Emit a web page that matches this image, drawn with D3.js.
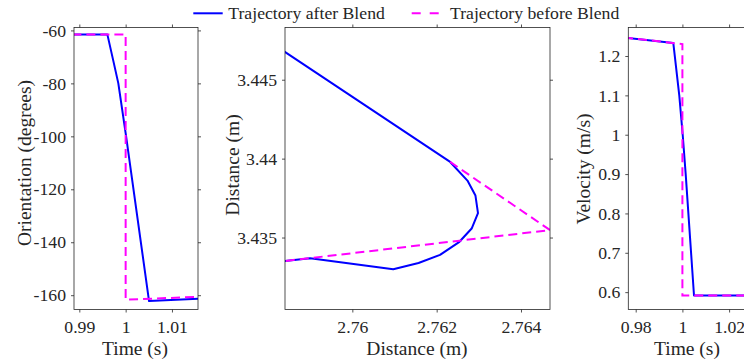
<!DOCTYPE html>
<html>
<head>
<meta charset="utf-8">
<script src="https://cdn.jsdelivr.net/npm/d3@7"></script>
<style>
  body { margin: 0; background: #fff; }
  svg text { font-family: "Liberation Serif", "Times New Roman", serif; fill: #262626; }
</style>
</head>
<body>
<svg width="744" height="364"></svg>
<script>
// orientation panel
var orientTimeAfter = [0.9885, 0.99605, 0.99734, 0.99842, 1.0001, 1.00505, 1.0157];
var orientAfter = [-61.5, -61.5, -71.5, -80, -100, -162.2, -161.3];
var orientTimeBefore = [0.9885, 1.0, 1.0, 1.0157];
var orientBefore = [-61.5, -61.5, -161.7, -160.6];
var orientXTicks = [0.99, 1, 1.01];
var orientXLabels = ["0.99", "1", "1.01"];
var orientYTicks = [-160, -140, -120, -100, -80, -60];
var orientYLabels = ["-160", "-140", "-120", "-100", "-80", "-60"];

// path panel
var posXAfter = [2.7582, 2.76232, 2.76273, 2.76292, 2.76298, 2.76283, 2.76254, 2.76208, 2.76157, 2.76097, 2.7590, 2.7582];
var posYAfter = [3.44712, 3.43979, 3.43861, 3.43766, 3.43655, 3.43557, 3.43473, 3.43390, 3.43339, 3.43299, 3.43369, 3.43345];
var posXBefore = [2.76232, 2.76469, 2.7582];
var posYBefore = [3.43979, 3.43547, 3.43345];
var posXTicks = [2.76, 2.762, 2.764];
var posXLabels = ["2.76", "2.762", "2.764"];
var posYTicks = [3.435, 3.44, 3.445];
var posYLabels = ["3.435", "3.44", "3.445"];

// velocity panel
var velTimeAfter = [0.975, 0.99610, 0.99866, 1.00013, 1.00141, 1.00497, 1.03];
var velAfter = [1.2472, 1.2332, 1.1, 1.0, 0.9, 0.5916, 0.5916];
var velTimeBefore = [0.975, 1.0, 1.0, 1.03];
var velBefore = [1.2472, 1.2304, 0.5916, 0.5916];
var velXTicks = [0.98, 1, 1.02];
var velXLabels = ["0.98", "1", "1.02"];
var velYTicks = [0.6, 0.7, 0.8, 0.9, 1, 1.1, 1.2];
var velYLabels = ["0.6", "0.7", "0.8", "0.9", "1", "1.1", "1.2"];

var legendNames = ["Trajectory after Blend", "Trajectory before Blend"];

var svg = d3.select("svg");
var top0 = 27.5, bottom0 = 309.5;
var serif = "'Liberation Serif', 'Times New Roman', serif";
var tickFont = "17.7px", labelFont = "19.5px";
var blue = "#0000ff", magenta = "#ff00ff";

function zip(a, b) {
    return a.map(function (v, i) { return [v, b[i]]; });
}

function drawPanel(p) {
    var x = d3.scaleLinear().domain(p.xDomain).range([p.left, p.right]);
    var y = d3.scaleLinear().domain(p.yDomain).range([bottom0, top0]);

    var clipId = "clip-" + p.name;
    svg.append("clipPath").attr("id", clipId)
        .append("rect")
        .attr("x", p.left).attr("y", top0)
        .attr("width", p.right - p.left).attr("height", bottom0 - top0);

    var line = d3.line()
        .x(function (d) { return x(d[0]); })
        .y(function (d) { return y(d[1]); });

    var g = svg.append("g").attr("clip-path", "url(#" + clipId + ")");
    g.append("path")
        .attr("d", line(p.after))
        .attr("fill", "none")
        .attr("stroke", blue)
        .attr("stroke-width", 2)
        .attr("stroke-linejoin", "round");
    g.append("path")
        .attr("d", line(p.before))
        .attr("fill", "none")
        .attr("stroke", magenta)
        .attr("stroke-width", 2)
        .attr("stroke-dasharray", "9,5");

    // box
    svg.append("rect")
        .attr("x", p.left).attr("y", top0)
        .attr("width", p.right - p.left).attr("height", bottom0 - top0)
        .attr("fill", "none")
        .attr("stroke", "#262626")
        .attr("stroke-width", 0.8);

    var bottomAxis = svg.append("g")
        .attr("transform", "translate(0," + bottom0 + ")")
        .call(d3.axisBottom(x).tickValues(p.xTicks)
            .tickFormat(function (d, i) { return p.xLabels[i]; })
            .tickSize(3).tickSizeOuter(0).tickPadding(8));
    var leftAxis = svg.append("g")
        .attr("transform", "translate(" + p.left + ",0)")
        .call(d3.axisLeft(y).tickValues(p.yTicks)
            .tickFormat(function (d, i) { return p.yLabels[i]; })
            .tickSize(3).tickSizeOuter(0).tickPadding(5));
    var topAxis = svg.append("g")
        .attr("transform", "translate(0," + top0 + ")")
        .call(d3.axisTop(x).tickValues(p.xTicks).tickFormat("")
            .tickSize(3).tickSizeOuter(0));
    var rightAxis = svg.append("g")
        .attr("transform", "translate(" + p.right + ",0)")
        .call(d3.axisRight(y).tickValues(p.yTicks).tickFormat("")
            .tickSize(3).tickSizeOuter(0));

    [bottomAxis, leftAxis, topAxis, rightAxis].forEach(function (a) {
        a.attr("font-family", serif);
        a.select(".domain").remove();
        a.selectAll("line").attr("stroke", "#262626").attr("stroke-width", 0.8);
        a.selectAll("text")
            .style("font-family", serif)
            .style("font-size", tickFont);
    });

    svg.append("text")
        .attr("x", p.xLabelX).attr("y", 355)
        .attr("text-anchor", "middle")
        .style("font-size", labelFont)
        .text(p.xTitle);
    svg.append("text")
        .attr("transform", "translate(" + p.yLabelX + "," + p.yLabelY + ") rotate(-90)")
        .attr("text-anchor", "middle")
        .style("font-size", labelFont)
        .text(p.yTitle);
}

drawPanel({
    name: "orient", left: 74, right: 198,
    xDomain: [0.98885, 1.01562], yDomain: [-165.4, -58.9],
    after: zip(orientTimeAfter, orientAfter), before: zip(orientTimeBefore, orientBefore),
    xTicks: orientXTicks, xLabels: orientXLabels, yTicks: orientYTicks, yLabels: orientYLabels,
    xTitle: "Time (s)", yTitle: "Orientation (degrees)",
    xLabelX: 135, yLabelX: 31, yLabelY: 163
});

drawPanel({
    name: "pos", left: 285, right: 550,
    xDomain: [2.758403, 2.764688], yDomain: [3.43044, 3.44831],
    after: zip(posXAfter, posYAfter), before: zip(posXBefore, posYBefore),
    xTicks: posXTicks, xLabels: posXLabels, yTicks: posYTicks, yLabels: posYLabels,
    xTitle: "Distance (m)", yTitle: "Distance (m)",
    xLabelX: 417, yLabelX: 239, yLabelY: 165
});

drawPanel({
    name: "vel", left: 628.3, right: 746,
    xDomain: [0.97683, 1.02724], yDomain: [0.5559, 1.27245],
    after: zip(velTimeAfter, velAfter), before: zip(velTimeBefore, velBefore),
    xTicks: velXTicks, xLabels: velXLabels, yTicks: velYTicks, yLabels: velYLabels,
    xTitle: "Time (s)", yTitle: "Velocity (m/s)",
    xLabelX: 687, yLabelX: 590, yLabelY: 169
});

// legend
var legend = svg.append("g");
legend.append("line")
    .attr("x1", 193.3).attr("x2", 222.7).attr("y1", 13.3).attr("y2", 13.3)
    .attr("stroke", blue).attr("stroke-width", 2);
legend.append("text")
    .attr("x", 228.3).attr("y", 18.5)
    .style("font-size", tickFont)
    .text(legendNames[0]);
legend.append("line")
    .attr("x1", 411.7).attr("x2", 441).attr("y1", 13.3).attr("y2", 13.3)
    .attr("stroke", magenta).attr("stroke-width", 2)
    .attr("stroke-dasharray", "9,9");
legend.append("text")
    .attr("x", 450).attr("y", 18.5)
    .style("font-size", tickFont)
    .text(legendNames[1]);
</script>
</body>
</html>
